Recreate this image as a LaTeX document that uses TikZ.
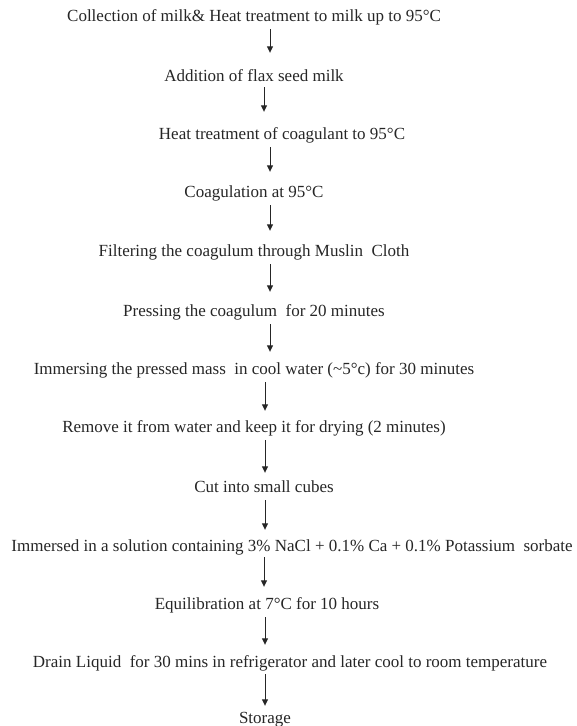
\documentclass[tikz,border=0pt]{standalone}
\usepackage{fontspec}
\setmainfont{Liberation Serif}
\usetikzlibrary{arrows.meta}
\begin{document}
\begin{tikzpicture}[x=1pt,y=-1pt,
  txt/.style={inner sep=0pt, text height=11pt, text depth=3pt, font=\fontsize{17}{20}\selectfont, text=black!85},
  arr/.style={-{Triangle[width=6pt,length=6.5pt]}, line width=0.9pt, draw=black!85, shorten <=5pt}]
\useasboundingbox (0,0) rectangle (576,726);
\node[txt] (n1)  at (254,17)  {Collection of milk\& Heat treatment to milk up to 95°C};
\node[txt] (n2)  at (254,77)  {Addition of flax seed milk};
\node[txt] (n3)  at (282,135) {Heat treatment of coagulant to 95°C};
\node[txt] (n4)  at (254,193) {Coagulation at 95°C};
\node[txt] (n5)  at (254,252) {Filtering the coagulum through Muslin\ \ Cloth};
\node[txt] (n6)  at (254,312) {Pressing the coagulum\ \ for 20 minutes};
\node[txt] (n7)  at (254,370) {Immersing the pressed mass\ \ in cool water (\textasciitilde5°c) for 30 minutes};
\node[txt] (n8)  at (254,428) {Remove it from water and keep it for drying (2 minutes)};
\node[txt] (n9)  at (264,488) {Cut into small cubes};
\node[txt] (n10) at (292,547) {Immersed in a solution containing 3\% NaCl + 0.1\% Ca + 0.1\% Potassium\ \ sorbate};
\node[txt] (n11) at (267,605) {Equilibration at 7°C for 10 hours};
\node[txt] (n12) at (290,663) {Drain Liquid\ \ for 30 mins in refrigerator and later cool to room temperature};
\node[txt] (n13) at (265,719) {Storage};
\draw[arr, shorten >=17pt] (n1.south -| 270,0) -- (n2.north -| 270,0);
\draw[arr, shorten >=16pt, shorten <=3pt] (n2.south -| 264,0) -- (n3.north -| 264,0);
\draw[arr, shorten >=14pt] (n3.south -| 270,0) -- (n4.north -| 270,0);
\draw[arr, shorten >=14pt] (n4.south -| 270,0) -- (n5.north -| 270,0);
\draw[arr, shorten >=13pt] (n5.south -| 270,0) -- (n6.north -| 270,0);
\draw[arr, shorten >=11pt] (n6.south -| 270,0) -- (n7.north -| 270,0);
\draw[arr, shorten >=10pt] (n7.south -| 265,0) -- (n8.north -| 265,0);
\draw[arr, shorten >=8pt] (n8.south -| 265,0) -- (n9.north -| 265,0);
\draw[arr, shorten >=10pt] (n9.south -| 265,0) -- (n10.north -| 265,0);
\draw[arr, shorten >=11pt, shorten <=3pt] (n10.south -| 264,0) -- (n11.north -| 264,0);
\draw[arr, shorten >=11pt] (n11.south -| 265,0) -- (n12.north -| 265,0);
\draw[arr, shorten >=6pt, shorten <=4pt] (n12.south -| 265,0) -- (n13.north -| 265,0);
\end{tikzpicture}
\end{document}
